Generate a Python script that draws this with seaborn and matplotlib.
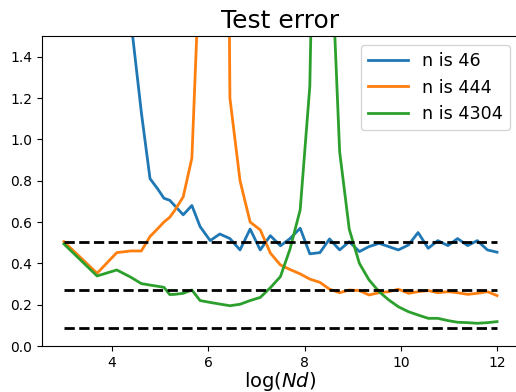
# Test error vs log(Nd) for three sample sizes
import matplotlib
matplotlib.use('Agg')
import matplotlib.pyplot as plt
import pandas as pd
import seaborn as sns

# x grid: log(Nd)
log_nd = [3.00, 3.69, 4.10, 4.39, 4.61, 4.79, 4.95, 5.08, 5.20, 5.30,
          5.48, 5.66, 5.83, 6.04, 6.24, 6.45, 6.66, 6.87, 7.08, 7.29,
          7.50, 7.70, 7.91, 8.11, 8.32, 8.52, 8.73, 8.93, 9.14, 9.34,
          9.55, 9.75, 9.95, 10.16, 10.36, 10.57, 10.77, 10.98, 11.18, 11.39,
          11.59, 11.80, 12.00]

err_46 = [9.0, 6.0, 3.2, 1.58, 1.13, 0.81, 0.76, 0.715, 0.705, 0.68,
          0.635, 0.68, 0.578, 0.51, 0.542, 0.52, 0.465, 0.566, 0.465, 0.534,
          0.485, 0.52, 0.57, 0.446, 0.452, 0.518, 0.465, 0.505, 0.457, 0.481,
          0.497, 0.481, 0.465, 0.489, 0.549, 0.473, 0.51, 0.486, 0.52, 0.486,
          0.51, 0.465, 0.454]

err_444 = [0.505, 0.352, 0.452, 0.46, 0.46, 0.53, 0.568, 0.60, 0.623, 0.655,
           0.722, 0.91, 1.91, 5.0, 7.5, 1.20, 0.80, 0.60, 0.562, 0.45,
           0.392, 0.37, 0.349, 0.324, 0.308, 0.275, 0.258, 0.271, 0.268, 0.247,
           0.258, 0.263, 0.275, 0.255, 0.263, 0.268, 0.258, 0.263, 0.258, 0.25,
           0.255, 0.263, 0.244]

err_4304 = [0.494, 0.339, 0.368, 0.333, 0.302, 0.295, 0.289, 0.284, 0.249, 0.25,
            0.255, 0.271, 0.220, 0.211, 0.203, 0.195, 0.202, 0.220, 0.235, 0.282,
            0.336, 0.47, 0.659, 1.256, 3.8, 2.12, 0.94, 0.565, 0.40, 0.32,
            0.263, 0.223, 0.19, 0.166, 0.15, 0.134, 0.134, 0.123, 0.115, 0.113,
            0.11, 0.113, 0.118]

labels = ['n is 46', 'n is 444', 'n is 4304']
# 渐近误差（虚线）
limits = [0.502, 0.271, 0.089]

# 整理成长表
data = pd.DataFrame({
    'log_nd': log_nd * 3,
    'error': err_46 + err_444 + err_4304,
    'series': [labels[0]] * len(log_nd) + [labels[1]] * len(log_nd) + [labels[2]] * len(log_nd),
})

fig = plt.figure(figsize=(5.16, 3.92), dpi=100)
ax = fig.add_axes([0.0818, 0.1173, 0.9234, 0.7908])

palette = sns.color_palette('tab10', 3)
sns.lineplot(data=data, x='log_nd', y='error', hue='series', palette=palette,
             linewidth=2, sort=False, estimator=None, ax=ax)

ax.hlines(limits, min(log_nd), max(log_nd), colors='k', linestyles='--', linewidth=2)

ax.set_ylim(0, 1.5)
ax.set_xlim(2.55, 12.45)
ax.set_xticks([4, 6, 8, 10, 12])
ax.set_yticks([0.0, 0.2, 0.4, 0.6, 0.8, 1.0, 1.2, 1.4])
ax.tick_params(labelsize=10)
ax.set_title('Test error', fontsize=18)
ax.set_xlabel('log($Nd$)', fontsize=14, labelpad=0)
ax.set_ylabel('')

handles, lbls = ax.get_legend_handles_labels()
ax.legend(handles[:3], lbls[:3], loc='upper right', fontsize=12.6, handlelength=2.3)

fig.savefig('out.png', dpi=100)
